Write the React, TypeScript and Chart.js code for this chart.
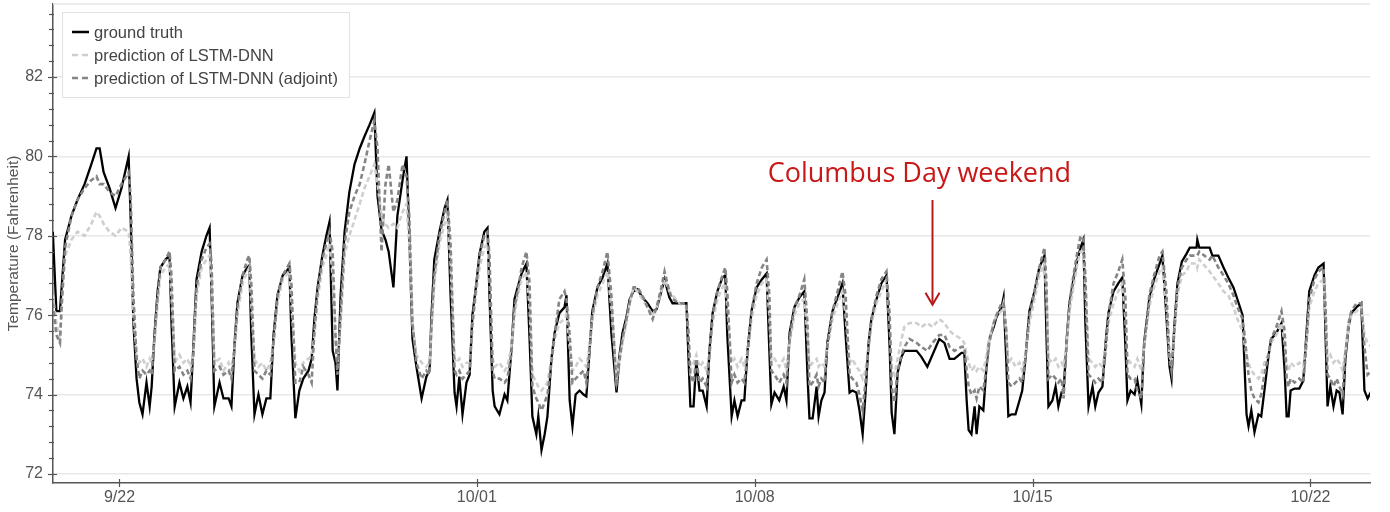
import { useEffect, useRef } from "react";
import { Chart, registerables } from "chart.js";

Chart.register(...registerables);

// x values: days since 9/22 00:00
const dayOffsets = [
  -1.68, -1.59, -1.5, -1.45, -1.37, -1.21, -1.06, -0.88, -0.71, -0.58, -0.5, -0.4, -0.25, -0.1, 0.05, 0.23, 0.28, 0.35, 0.43,
  0.5, 0.58, 0.68, 0.76, 0.81, 0.88, 0.96, 1.03, 1.16, 1.26, 1.31, 1.39,
  1.51, 1.61, 1.71, 1.79, 1.86, 1.94, 2.07, 2.19, 2.27, 2.32, 2.39,
  2.52, 2.62, 2.75, 2.82, 2.9, 2.97, 3.1, 3.22, 3.27, 3.32, 3.4,
  3.5, 3.6, 3.7, 3.8, 3.88, 3.98, 4.11, 4.28, 4.33, 4.43,
  4.53, 4.63, 4.76, 4.84, 4.91, 4.99, 5.11, 5.21, 5.29, 5.37, 5.44, 5.49, 5.57, 5.67, 5.79, 5.92, 6.05, 6.17, 6.3, 6.42, 6.5, 6.6, 6.7, 6.78, 6.9, 7.0, 7.13, 7.23, 7.3, 7.38, 7.48, 7.61, 7.73, 7.81,
  7.86, 7.93, 8.06, 8.19, 8.26, 8.34, 8.44, 8.49, 8.56, 8.64, 8.74, 8.82, 8.89, 8.99, 9.07, 9.19, 9.27, 9.32, 9.4,
  9.45, 9.57, 9.7, 9.77, 9.87, 9.95, 10.03, 10.13, 10.25, 10.33, 10.4,
  10.5, 10.55, 10.63, 10.71, 10.78, 10.88, 10.96, 11.08, 11.21, 11.26, 11.34, 11.41,
  11.49, 11.59, 11.69, 11.76, 11.84, 11.91, 12.04, 12.17, 12.29, 12.39, 12.52,
  12.59, 12.67, 12.77, 12.85, 12.95, 13.05, 13.17, 13.3, 13.43, 13.53, 13.65, 13.73, 13.85, 13.93, 14.11, 14.28,
  14.33, 14.38, 14.46, 14.53, 14.61, 14.69, 14.79, 14.86, 14.94, 15.06, 15.19, 15.26, 15.31, 15.42,
  15.49, 15.57, 15.67, 15.74, 15.82, 15.92, 16.05, 16.18, 16.3, 16.37, 16.42,
  16.5, 16.62, 16.73, 16.8, 16.88, 17.0, 17.13, 17.25, 17.33, 17.38,
  17.46, 17.56, 17.61, 17.68, 17.76, 17.83, 17.96, 18.09, 18.21, 18.29, 18.39,
  18.46, 18.56, 18.64, 18.72, 18.79, 18.87, 18.94, 19.07, 19.19, 19.32, 19.4, 19.45, 19.52,
  19.6, 19.7, 19.77, 19.9, 20.08, 20.2, 20.35, 20.48, 20.65, 20.78, 20.91, 21.03, 21.21, 21.28,
  21.34, 21.39, 21.46, 21.54, 21.59, 21.66, 21.76, 21.84, 21.91, 22.02, 22.09, 22.22, 22.27, 22.34, 22.39,
  22.47, 22.57, 22.67, 22.74, 22.82, 22.92, 23.05, 23.17, 23.3, 23.35, 23.4,
  23.5, 23.58, 23.65, 23.73, 23.78, 23.86, 23.93, 24.03, 24.13, 24.21, 24.28, 24.33, 24.41,
  24.51, 24.58, 24.66, 24.76, 24.84, 24.91, 25.04, 25.16, 25.26, 25.34, 25.39,
  25.47, 25.57, 25.64, 25.74, 25.81, 25.94, 26.06, 26.2, 26.27, 26.37, 26.45, 26.5, 26.57, 26.65, 26.76, 26.88, 26.96, 27.13, 27.15, 27.2, 27.46, 27.53, 27.68, 27.81, 27.93, 28.06, 28.16, 28.29, 28.34, 28.39, 28.44,
  28.51, 28.59, 28.69, 28.76, 28.84, 28.94, 29.01, 29.14, 29.27, 29.35, 29.4, 29.45, 29.5, 29.6, 29.72, 29.82, 29.9, 29.97, 30.1, 30.2, 30.33, 30.38, 30.43, 30.5, 30.58, 30.66, 30.73,
  30.81, 30.88, 30.96, 31.03, 31.16, 31.28, 31.36, 31.44, 31.54,
];

const groundTruth = [
  78.1, 76.1, 76.1, 76.8, 77.9, 78.5, 78.9, 79.3, 79.8, 80.2, 80.2, 79.6, 79.2, 78.7, 79.2, 80.0, 78.5, 75.8, 74.4,
  73.8, 73.5, 74.3, 73.7, 74.2, 75.5, 76.6, 77.2, 77.4, 77.5, 75.8, 73.7,
  74.3, 73.9, 74.2, 73.8, 75.2, 76.9, 77.6, 78.0, 78.2, 76.5, 73.7,
  74.3, 73.9, 73.9, 73.7, 75.3, 76.3, 77.0, 77.2, 77.25, 75.5, 73.5,
  74.0, 73.5, 73.9, 73.9, 75.5, 76.5, 77.0, 77.2, 75.5, 73.4,
  74.1, 74.4, 74.6, 74.9, 75.9, 76.7, 77.5, 78.0, 78.35, 75.1, 74.8, 74.1, 76.5, 78.1, 79.1, 79.8, 80.2, 80.5, 80.8, 81.1, 79.0, 78.15, 77.9, 77.6, 76.7, 78.5, 79.4, 80.0, 78.0, 75.4, 74.7, 73.9, 74.45, 74.6,
  76.0, 77.4, 78.1, 78.7, 78.9, 76.5, 74.05, 73.7, 74.45, 73.5, 74.3, 74.5, 76.0, 76.8, 77.55, 78.1, 78.2, 76.5, 74.1,
  73.7, 73.5, 74.0, 73.85, 75.1, 76.4, 76.7, 77.05, 77.3, 75.4, 73.45,
  73.0, 73.45, 72.6, 73.0, 73.45, 74.9, 75.55, 76.05, 76.2, 76.5, 73.85, 73.2,
  74.0, 74.1, 74.0, 73.95, 75.1, 76.1, 76.7, 76.95, 77.3, 75.55, 74.05,
  74.95, 75.55, 75.95, 76.4, 76.6, 76.65, 76.45, 76.3, 76.1, 76.15, 76.6, 76.9, 76.45, 76.3, 76.3, 76.3,
  75.0, 73.7, 73.7, 74.85, 74.1, 74.1, 73.7, 75.1, 76.05, 76.6, 76.95, 77.0, 75.5, 73.45,
  73.85, 73.45, 73.85, 73.85, 75.1, 76.1, 76.7, 76.9, 77.05, 75.1, 73.75,
  74.05, 73.85, 74.2, 73.85, 75.55, 76.2, 76.45, 76.6, 74.5, 73.4,
  73.4, 74.2, 73.45, 73.85, 74.05, 75.3, 76.1, 76.45, 76.8, 75.5, 74.05,
  74.1, 74.05, 73.6, 73.0, 74.0, 75.3, 75.9, 76.4, 76.8, 77.0, 75.2, 73.55, 73.0,
  74.55, 74.95, 75.1, 75.1, 75.1, 74.95, 74.7, 75.0, 75.4, 75.3, 74.9, 74.9, 75.05, 75.05,
  73.85, 73.1, 73.0, 73.7, 73.0, 73.7, 73.6, 74.7, 75.4, 75.7, 75.95, 76.2, 76.45, 74.8, 73.45,
  73.5, 73.5, 73.85, 74.1, 74.9, 76.1, 76.6, 77.2, 77.5, 75.5, 73.7,
  73.85, 74.2, 73.7, 74.05, 74.05, 75.4, 76.3, 76.9, 77.4, 77.7, 77.9, 75.8, 73.7,
  74.2, 73.7, 74.05, 74.2, 75.3, 76.05, 76.6, 76.8, 76.95, 75.2, 73.85,
  74.1, 74.0, 74.35, 73.75, 75.3, 76.4, 76.9, 77.3, 77.5, 76.0, 74.7, 74.4, 75.7, 76.8, 77.35, 77.55, 77.7, 77.7, 77.9, 77.7, 77.7, 77.5, 77.5, 77.2, 76.95, 76.7, 76.4, 76.0, 74.7, 73.5, 73.2,
  73.6, 73.05, 73.5, 73.45, 74.1, 74.95, 75.4, 75.55, 75.8, 74.6, 73.45, 73.45, 74.1, 74.15, 74.15, 74.35, 75.55, 76.6, 77.0, 77.2, 77.3, 75.5, 73.7, 74.2, 73.7, 74.1, 74.05,
  73.5, 74.9, 75.7, 76.05, 76.2, 76.3, 74.1, 73.9, 74.1,
];

const predictionLstm = [
  76.5, 75.8, 75.4, 76.3, 77.5, 77.9, 78.1, 78.0, 78.3, 78.6, 78.5, 78.3, 78.1, 78.0, 78.2, 78.1, 77.5, 76.0, 75.0,
  74.8, 74.9, 74.7, 74.9, 74.8, 75.3, 76.3, 77.0, 77.2, 77.3, 76.5, 74.8,
  75.0, 74.8, 74.9, 74.7, 75.0, 76.5, 77.2, 77.4, 77.5, 76.8, 74.8,
  74.9, 74.6, 74.8, 74.6, 75.2, 76.0, 76.8, 77.1, 77.2, 76.3, 74.9,
  74.7, 74.8, 74.6, 74.8, 75.3, 76.3, 76.9, 77.1, 76.3, 74.8,
  74.6, 74.8, 74.9, 75.0, 75.5, 76.4, 77.2, 77.5, 77.8, 77.0, 75.5, 74.8, 75.8, 77.5, 78.0, 78.4, 78.8, 79.2, 79.5, 79.8, 79.3, 78.5, 78.3, 78.2, 78.3, 78.2, 78.6, 78.8, 77.8, 75.8, 75.0, 74.8, 74.7, 74.8,
  75.6, 76.8, 77.8, 78.3, 78.5, 77.3, 74.9, 74.8, 74.9, 74.7, 74.8, 74.8, 75.7, 76.6, 77.2, 77.7, 77.8, 77.0, 74.9,
  74.7, 74.8, 74.6, 74.7, 75.2, 76.0, 76.5, 76.9, 77.1, 76.2, 74.5,
  74.3, 74.2, 74.1, 74.2, 74.3, 74.9, 75.4, 75.8, 75.9, 76.0, 75.2, 74.6,
  74.7, 74.9, 74.8, 74.7, 75.2, 75.9, 76.5, 76.8, 77.1, 76.2, 74.4,
  74.9, 75.3, 75.8, 76.3, 76.7, 76.6, 76.4, 76.2, 76.0, 76.2, 76.6, 76.9, 76.6, 76.5, 76.3, 76.2,
  75.6, 74.6, 74.8, 75.0, 74.7, 74.8, 74.6, 75.0, 75.8, 76.4, 76.7, 76.8, 76.2, 74.8,
  74.9, 74.7, 74.9, 74.7, 75.1, 75.9, 76.5, 76.8, 76.9, 76.0, 74.8,
  74.9, 74.7, 74.9, 74.6, 75.3, 76.0, 76.3, 76.4, 75.5, 74.7,
  74.8, 74.9, 74.7, 74.8, 74.7, 75.2, 75.9, 76.3, 76.6, 76.0, 74.8,
  74.9, 74.7, 74.6, 74.4, 74.6, 75.2, 75.8, 76.3, 76.6, 76.9, 75.8, 74.7, 74.5,
  74.9, 75.4, 75.7, 75.8, 75.8, 75.7, 75.8, 75.7, 75.9, 75.8, 75.6, 75.5, 75.4, 75.3,
  75.0, 74.8, 74.6, 74.7, 74.6, 74.7, 74.6, 75.0, 75.4, 75.8, 76.0, 76.1, 76.3, 75.5, 74.8,
  74.9, 74.7, 74.8, 74.6, 75.0, 75.8, 76.4, 77.0, 77.3, 76.5, 74.9,
  74.8, 74.9, 74.7, 74.8, 74.7, 75.3, 76.1, 76.7, 77.3, 77.6, 77.6, 76.7, 74.9,
  74.8, 74.7, 74.8, 74.7, 75.2, 75.8, 76.3, 76.6, 76.8, 75.9, 74.9,
  74.8, 74.7, 74.9, 74.6, 75.2, 76.2, 76.7, 77.1, 77.2, 76.3, 75.0, 74.8, 75.5, 76.5, 77.0, 77.1, 77.3, 77.3, 77.2, 77.4, 77.1, 77.0, 76.8, 76.6, 76.5, 76.2, 75.9, 75.6, 75.3, 75.0, 74.8,
  74.6, 74.5, 74.4, 74.5, 74.8, 75.0, 75.3, 75.5, 75.8, 75.3, 74.7, 74.6, 74.8, 74.7, 74.8, 74.7, 75.3, 76.2, 76.6, 76.8, 76.9, 76.0, 74.9, 75.0, 74.8, 74.9, 74.8,
  74.6, 75.1, 75.7, 76.0, 76.1, 76.2, 75.5, 75.3, 75.2,
];

const predictionAdjoint = [
  76.3, 75.5, 75.3, 76.4, 77.7, 78.5, 78.9, 79.2, 79.4, 79.5, 79.3, 79.3, 79.1, 79.0, 79.3, 79.6, 79.0, 76.5, 74.9,
  74.4, 74.6, 74.5, 74.6, 74.5, 75.4, 76.5, 77.2, 77.4, 77.6, 77.0, 74.6,
  74.7, 74.5, 74.6, 74.4, 75.0, 76.7, 77.4, 77.7, 77.8, 77.3, 74.6,
  74.7, 74.5, 74.6, 74.4, 75.2, 76.2, 77.0, 77.4, 77.5, 76.8, 74.6,
  74.5, 74.4, 74.6, 74.5, 75.3, 76.5, 77.0, 77.3, 76.8, 74.3,
  74.3, 74.7, 74.5, 74.3, 75.6, 76.6, 77.4, 77.8, 78.1, 77.6, 75.5, 74.5, 76.0, 77.8, 78.6, 79.0, 79.3, 79.8, 80.4, 80.9, 80.2, 77.6, 79.3, 79.8, 78.6, 78.9, 79.8, 79.5, 78.5, 75.8, 74.8, 74.4, 74.6, 74.5,
  75.8, 77.0, 78.0, 78.6, 78.9, 77.8, 74.6, 74.5, 74.6, 74.4, 74.5, 74.6, 75.8, 76.8, 77.5, 78.0, 78.1, 77.5, 74.6,
  74.4, 74.4, 74.3, 74.4, 75.0, 76.2, 76.6, 77.2, 77.6, 76.8, 74.2,
  73.9, 73.8, 73.6, 73.8, 74.0, 74.8, 75.5, 76.4, 76.6, 76.4, 75.5, 74.3,
  74.4, 74.5, 74.6, 74.3, 75.1, 76.0, 76.7, 77.1, 77.6, 76.5, 74.2,
  74.8, 75.4, 75.9, 76.3, 76.7, 76.7, 76.5, 76.2, 75.9, 76.2, 76.7, 77.1, 76.6, 76.4, 76.3, 76.3,
  75.6, 74.5, 74.3, 74.9, 74.3, 74.4, 74.2, 75.0, 76.0, 76.6, 77.0, 77.2, 76.6, 74.3,
  74.5, 74.3, 74.4, 74.3, 75.0, 76.1, 76.8, 77.2, 77.4, 76.5, 74.6,
  74.5, 74.3, 74.5, 74.3, 75.4, 76.2, 76.5, 76.9, 75.8, 74.2,
  74.3, 74.5, 74.2, 74.4, 74.3, 75.2, 76.1, 76.6, 77.1, 76.5, 74.5,
  74.4, 74.3, 74.0, 73.6, 74.3, 75.2, 75.9, 76.5, 76.9, 77.1, 76.0, 74.2, 73.8,
  74.6, 75.0, 75.2, 75.4, 75.3, 75.2, 75.1, 75.3, 75.5, 75.5, 75.2, 75.1, 75.2, 75.2,
  74.6, 74.2, 74.0, 74.1, 73.9, 74.2, 74.1, 74.7, 75.3, 75.8, 76.0, 76.3, 76.3, 75.6, 74.3,
  74.2, 74.3, 74.4, 74.3, 74.9, 76.0, 76.6, 77.2, 77.7, 76.8, 74.4,
  74.5, 74.4, 74.3, 74.4, 73.9, 75.3, 76.3, 77.0, 77.6, 78.0, 77.9, 77.0, 74.5,
  74.4, 74.3, 74.4, 74.3, 75.1, 76.0, 76.8, 77.1, 77.4, 76.4, 74.5,
  74.4, 74.4, 74.1, 73.9, 75.2, 76.5, 77.0, 77.5, 77.6, 76.6, 74.9, 74.6, 75.6, 76.7, 77.2, 77.4, 77.5, 77.5, 77.5, 77.6, 77.4, 77.5, 77.2, 77.0, 76.8, 76.5, 76.2, 75.9, 75.5, 75.0, 74.5,
  74.1, 73.9, 73.8, 74.0, 74.5, 75.0, 75.4, 75.7, 76.1, 75.6, 74.4, 74.2, 74.4, 74.3, 74.4, 74.3, 75.3, 76.4, 76.9, 77.1, 77.2, 76.2, 74.5, 74.4, 74.2, 74.4, 74.2,
  74.0, 75.0, 75.8, 76.1, 76.3, 76.3, 75.2, 74.5, 74.6,
];

const seriesLabels = ["ground truth", "prediction of LSTM-DNN", "prediction of LSTM-DNN (adjoint)"];
const xTickDays = [0, 9, 16, 23, 30];
const xTickLabels = ["9/22", "10/01", "10/08", "10/15", "10/22"];
const yTickValues = [72, 74, 76, 78, 80, 82];
const yMinorStep = 0.4;
const xMin = -1.675;
const xMax = 31.5;
const yMin = 71.77;
const yMax = 83.84;

const annotationText = "Columbus Day weekend";
const annotationTextX = 20.15;
const annotationTextY = 79.36;
const arrowX = 20.47;
const arrowFromY = 78.9;
const arrowToY = 76.26;

function toPoints(values: number[]) {
  const n = Math.min(values.length, dayOffsets.length);
  const out: { x: number; y: number }[] = [];
  for (let i = 0; i < n; i++) out.push({ x: dayOffsets[i], y: values[i] });
  return out;
}

const FONT = '"Liberation Sans", Arial, sans-serif';

const decorPlugin = {
  id: "decor",
  afterDraw(chart: any) {
    const { ctx, chartArea, scales } = chart;
    const xs = scales.x;
    const ys = scales.y;
    ctx.save();

    // top frame line
    ctx.strokeStyle = "#e6e6e6";
    ctx.lineWidth = 1.5;
    ctx.beginPath();
    ctx.moveTo(chartArea.left, chartArea.top);
    ctx.lineTo(chartArea.right, chartArea.top);
    ctx.stroke();

    // y tick marks (major + minor)
    ctx.strokeStyle = "#555";
    ctx.lineWidth = 1.2;
    const start = Math.ceil(yMin / yMinorStep) * yMinorStep;
    for (let v = start; v <= yMax + 1e-9; v += yMinorStep) {
      const vv = Math.round(v * 100) / 100;
      const py = Math.round(ys.getPixelForValue(vv)) + 0.5;
      const major = Math.abs(vv / 2 - Math.round(vv / 2)) < 1e-6;
      ctx.beginPath();
      ctx.moveTo(chartArea.left - (major ? 5 : 4), py);
      ctx.lineTo(chartArea.left + (major ? 4 : 1), py);
      ctx.stroke();
    }
    // x tick marks
    xTickDays.forEach((d) => {
      const px = Math.round(xs.getPixelForValue(d)) + 0.5;
      ctx.beginPath();
      ctx.moveTo(px, chartArea.bottom - 4);
      ctx.lineTo(px, chartArea.bottom + 4);
      ctx.stroke();
    });

    // legend
    const lx = chartArea.left + 9;
    const ly = chartArea.top + 8;
    ctx.fillStyle = "#ffffff";
    ctx.fillRect(lx, ly, 287, 85);
    ctx.strokeStyle = "#e2e2e2";
    ctx.lineWidth = 1;
    ctx.strokeRect(lx + 0.5, ly + 0.5, 287, 85);
    ctx.font = "16.5px " + FONT;
    ctx.textBaseline = "middle";
    ctx.textAlign = "left";
    chart.data.datasets.forEach((ds: any, i: number) => {
      const ry = ly + 20 + i * 23;
      ctx.strokeStyle = ds.borderColor;
      ctx.lineWidth = 2.5;
      ctx.setLineDash(ds.borderDash && ds.borderDash.length ? [6, 4] : []);
      ctx.beginPath();
      ctx.moveTo(lx + 10, ry);
      ctx.lineTo(lx + 27, ry);
      ctx.stroke();
      ctx.setLineDash([]);
      ctx.fillStyle = "#444";
      ctx.fillText(ds.label, lx + 32, ry + 1);
    });

    // annotation
    ctx.fillStyle = "#c81818";
    ctx.font = '27px "Open Sans", "Noto Sans", sans-serif';
    ctx.textAlign = "center";
    ctx.textBaseline = "alphabetic";
    ctx.fillText(annotationText, xs.getPixelForValue(annotationTextX), ys.getPixelForValue(annotationTextY));

    const ax = Math.round(xs.getPixelForValue(arrowX)) + 0.5;
    const ay1 = ys.getPixelForValue(arrowFromY);
    const ay2 = ys.getPixelForValue(arrowToY);
    ctx.strokeStyle = "#b41a1a";
    ctx.lineWidth = 2;
    ctx.beginPath();
    ctx.moveTo(ax, ay1);
    ctx.lineTo(ax, ay2 - 1);
    ctx.stroke();
    ctx.beginPath();
    ctx.moveTo(ax - 7, ay2 - 12);
    ctx.lineTo(ax, ay2);
    ctx.lineTo(ax + 7, ay2 - 12);
    ctx.stroke();

    ctx.restore();
  },
};

export default function App() {
  const canvasRef = useRef<HTMLCanvasElement | null>(null);

  useEffect(() => {
    if (!canvasRef.current) return;
    Chart.defaults.font.family = FONT;
    const chart = new Chart(canvasRef.current, {
      type: "line",
      data: {
        datasets: [
          {
            label: seriesLabels[0],
            data: toPoints(groundTruth),
            borderColor: "#000000",
            borderWidth: 2.3,
            pointRadius: 0,
            tension: 0,
            order: 3,
          },
          {
            label: seriesLabels[1],
            data: toPoints(predictionLstm),
            borderColor: "#cfcfcf",
            borderWidth: 2.6,
            borderDash: [5, 3],
            pointRadius: 0,
            tension: 0,
            order: 2,
          },
          {
            label: seriesLabels[2],
            data: toPoints(predictionAdjoint),
            borderColor: "#858585",
            borderWidth: 2.6,
            borderDash: [5, 3],
            pointRadius: 0,
            tension: 0,
            order: 1,
          },
        ],
      },
      options: {
        animation: false,
        responsive: false,
        maintainAspectRatio: false,
        layout: { padding: { top: 4, right: 20, left: 0, bottom: 0 } },
        plugins: { legend: { display: false }, tooltip: { enabled: false } },
        scales: {
          x: {
            type: "linear",
            min: xMin,
            max: xMax,
            afterBuildTicks: (s: any) => {
              s.ticks = xTickDays.map((v) => ({ value: v }));
            },
            afterFit: (s: any) => {
              s.height = 29;
              s.paddingLeft = 0;
              s.paddingRight = 0;
            },
            ticks: {
              autoSkip: false,
              maxRotation: 0,
              padding: 5,
              color: "#555",
              font: { size: 16 },
              callback: (v: any) => {
                const i = xTickDays.indexOf(Number(v));
                return i >= 0 ? xTickLabels[i] : "";
              },
            },
            grid: { color: "rgba(0,0,0,0)", drawTicks: false },
            border: { display: true, color: "#555", width: 1.5 },
          },
          y: {
            type: "linear",
            min: yMin,
            max: yMax,
            afterBuildTicks: (s: any) => {
              s.ticks = yTickValues.map((v) => ({ value: v }));
            },
            afterFit: (s: any) => {
              s.width = 53;
              s.paddingTop = 0;
              s.paddingBottom = 0;
            },
            ticks: {
              padding: 10,
              color: "#555",
              font: { size: 16 },
              callback: (v: any) => String(v),
            },
            grid: { color: "#e8e8e8", lineWidth: 1.5, drawTicks: false },
            border: { display: true, color: "#555", width: 1.5 },
            title: {
              display: true,
              text: "Temperature (Fahrenheit)",
              color: "#555",
              font: { size: 15.5 },
              padding: { top: 4, bottom: 0 },
            },
          },
        },
      },
      plugins: [decorPlugin],
    } as any);
    return () => chart.destroy();
  }, []);

  return (
    <div style={{ position: "absolute", left: 0, top: 0, width: 1390, height: 512, background: "#fff" }}>
      <canvas ref={canvasRef} width={1390} height={512} style={{ display: "block" }} />
    </div>
  );
}
